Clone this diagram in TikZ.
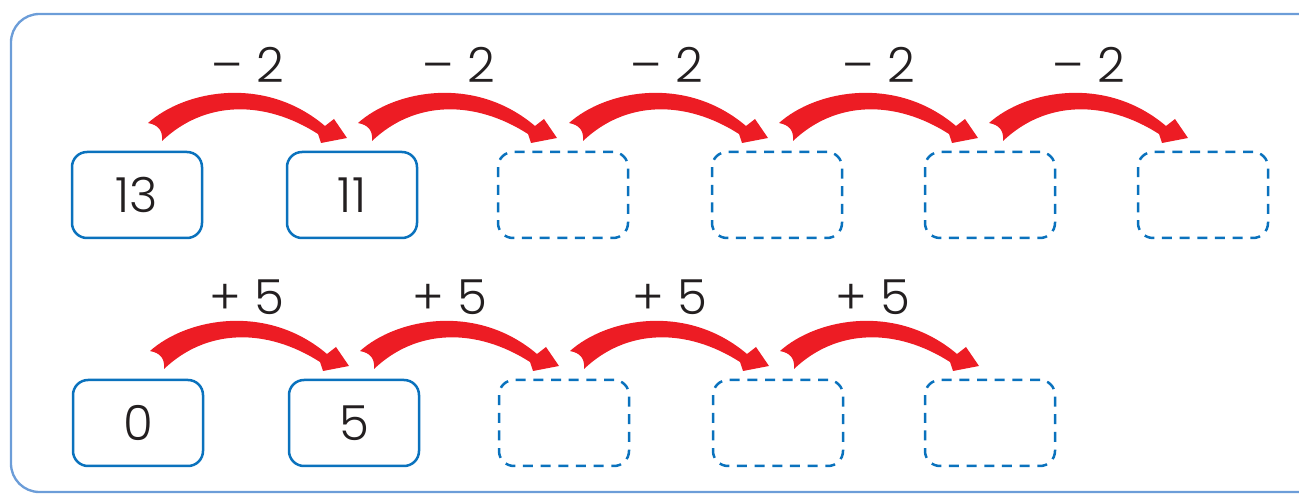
\documentclass[tikz,border=0pt]{standalone}
\usepackage{fontspec}
\setmainfont{Poppins Light}
\definecolor{framecol}{HTML}{6C9DD8}
\definecolor{boxcol}{HTML}{0A72BD}
\definecolor{arrowred}{HTML}{ED1C24}
\definecolor{txt}{HTML}{231F20}
\begin{document}
\begin{tikzpicture}[x=0.6pt,y=-0.6pt,
  frame/.style={draw=framecol,line width=1.4pt,rounded corners=17pt},
  numbox/.style={draw=boxcol,line width=1.5pt,rounded corners=9pt,minimum width=78pt,minimum height=51.6pt,inner sep=0pt,text=txt,font=\fontsize{29}{35}\selectfont},
  emptybox/.style={numbox,dash pattern=on 6pt off 4.6pt},
  oplabel/.style={text=txt,font=\fontsize{29}{35}\selectfont,inner sep=0pt},
  jump/.pic={\fill[arrowred] (11,-29) .. controls (48,-62) and (128,-77) .. (188,-26) -- (197,-33) -- (210,-14) -- (184,-9) -- (181,-18) .. controls (128,-52) and (68,-52) .. (25,-11) .. controls (26,-22) and (21,-27) .. cycle;}
]
\useasboundingbox (0,0) rectangle (1299,495);
\clip (0,0) rectangle (1299,495);
\draw[frame] (11,14) rectangle (1330,492);
% row 1
\node[numbox] (a1) at (137,195) {13};
\node[numbox] (a2) at (352,195) {11};
\node[emptybox] (a3) at (563,195) {};
\node[emptybox] (a4) at (777,195) {};
\node[emptybox] (a5) at (990,195) {};
\node[emptybox] (a6) at (1203,195) {};
\pic at (137,152) {jump};
\pic at (347,152) {jump};
\pic at (558,152) {jump};
\pic at (768,152) {jump};
\pic at (978,152) {jump};
\node[oplabel] (m1) at (248,65) {– 2};
\node[oplabel] (m2) at (459,65) {– 2};
\node[oplabel] (m3) at (667,65) {– 2};
\node[oplabel] (m4) at (879,65) {– 2};
\node[oplabel] (m5) at (1089,65) {– 2};
% row 2
\node[numbox] (b1) at (138,423) {0};
\node[numbox] (b2) at (354,423) {5};
\node[emptybox] (b3) at (564,423) {};
\node[emptybox] (b4) at (778,423) {};
\node[emptybox] (b5) at (990,423) {};
\pic at (139,380) {jump};
\pic at (349,380) {jump};
\pic at (559,380) {jump};
\pic at (769,380) {jump};
\node[oplabel] (p1) at (247,297) {+ 5};
\node[oplabel] (p2) at (450,297) {+ 5};
\node[oplabel] (p3) at (670,297) {+ 5};
\node[oplabel] (p4) at (873,297) {+ 5};
\end{tikzpicture}
\end{document}
